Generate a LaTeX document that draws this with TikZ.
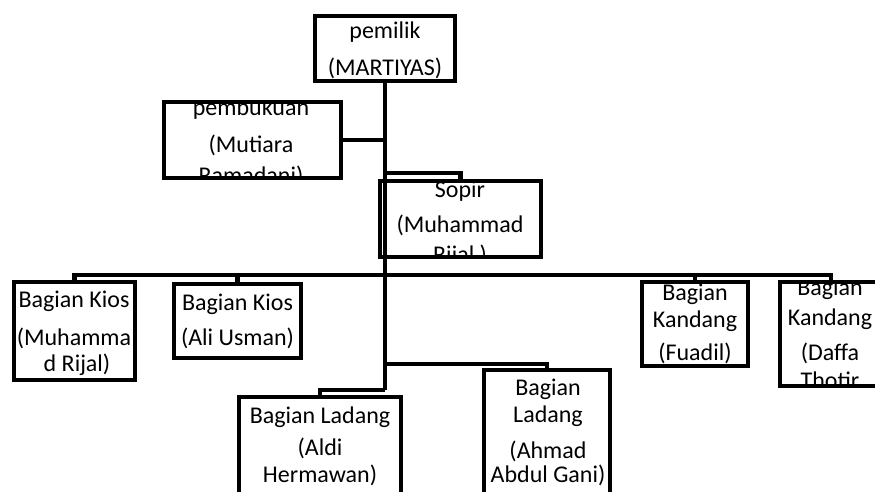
\documentclass[tikz,border=0pt]{standalone}
\usepackage{fontspec}
\setmainfont{Carlito}
\begin{document}
\begin{tikzpicture}[x=1pt,y=-1pt,
  orgbox/.style={draw=black,line width=4.8pt,rectangle,inner sep=0pt,outer sep=0pt},
  txt/.style={anchor=base,inner sep=0pt,font=\fontsize{24}{28}\selectfont,text=black},
  conn/.style={draw=black,line width=4.8pt,line join=miter}]
\useasboundingbox (0,0) rectangle (875,492);
\clip (0,0) rectangle (875,492);
\fill[white] (0,0) rectangle (875,492);

% boxes
\node[orgbox,minimum width=140pt,minimum height=65pt] (pemilik) at (385,48.5) {};
\node[orgbox,minimum width=177pt,minimum height=76pt] (pembukuan) at (252.5,140) {};
\node[orgbox,minimum width=161pt,minimum height=76pt] (sopir) at (460.5,219) {};
\node[orgbox,minimum width=121pt,minimum height=98pt] (kios1) at (74.5,331) {};
\node[orgbox,minimum width=127pt,minimum height=74pt] (kios2) at (237.5,321) {};
\node[orgbox,minimum width=106pt,minimum height=84pt] (kandang1) at (695,324) {};
\node[orgbox,minimum width=102pt,minimum height=104pt] (kandang2) at (831,334) {};
\node[orgbox,minimum width=162pt,minimum height=113pt] (ladang1) at (320,453.5) {};
\node[orgbox,minimum width=126pt,minimum height=140pt] (ladang2) at (547,440) {};

% texts (clipped to the inside of each box)
\begin{scope}
\clip ([xshift=2.4pt,yshift=2.4pt]pemilik.south west) rectangle ([xshift=-2.4pt,yshift=-2.4pt]pemilik.north east);
\node[txt] (pemilikA) at (385,39) {pemilik};
\node[txt] (pemilikB) at (385,76) {(MARTIYAS)};
\end{scope}
\begin{scope}
\clip ([xshift=2.4pt,yshift=2.4pt]pembukuan.south west) rectangle ([xshift=-2.4pt,yshift=-2.4pt]pembukuan.north east);
\node[txt] (pembA) at (251,116) {pembukuan};
\node[txt] (pembB) at (251,153) {(Mutiara};
\node[txt] (pembC) at (251,183) {Ramadani)};
\end{scope}
\begin{scope}
\clip ([xshift=2.4pt,yshift=2.4pt]sopir.south west) rectangle ([xshift=-2.4pt,yshift=-2.4pt]sopir.north east);
\node[txt] (sopirA) at (460,197) {Sopir};
\node[txt] (sopirB) at (460,232) {(Muhammad};
\node[txt] (sopirC) at (460,262) {Rijal )};
\end{scope}
\begin{scope}
\clip ([xshift=2.4pt,yshift=2.4pt]kios1.south west) rectangle ([xshift=-2.4pt,yshift=-2.4pt]kios1.north east);
\node[txt] (kios1A) at (74,307) {Bagian Kios};
\node[txt] (kios1B) at (74,345) {(Muhamma};
\node[txt] (kios1C) at (77,371) {d Rijal)};
\end{scope}
\begin{scope}
\clip ([xshift=2.4pt,yshift=2.4pt]kios2.south west) rectangle ([xshift=-2.4pt,yshift=-2.4pt]kios2.north east);
\node[txt] (kios2A) at (237.5,310) {Bagian Kios};
\node[txt] (kios2B) at (237.5,345) {(Ali Usman)};
\end{scope}
\begin{scope}
\clip ([xshift=2.4pt,yshift=2.4pt]kandang1.south west) rectangle ([xshift=-2.4pt,yshift=-2.4pt]kandang1.north east);
\node[txt] (kand1A) at (695,300) {Bagian};
\node[txt] (kand1B) at (695,327) {Kandang};
\node[txt] (kand1C) at (695,360) {(Fuadil)};
\end{scope}
\begin{scope}
\clip ([xshift=2.4pt,yshift=2.4pt]kandang2.south west) rectangle ([xshift=-2.4pt,yshift=-2.4pt]kandang2.north east);
\node[txt] (kand2A) at (830,295) {Bagian};
\node[txt] (kand2B) at (830,325) {Kandang};
\node[txt] (kand2C) at (830,360) {(Daffa};
\node[txt] (kand2D) at (830,388) {Thotir};
\end{scope}
\begin{scope}
\clip ([xshift=2.4pt,yshift=2.4pt]ladang1.south west) rectangle ([xshift=-2.4pt,yshift=-2.4pt]ladang1.north east);
\node[txt] (lad1A) at (320,423) {Bagian Ladang};
\node[txt] (lad1B) at (320,455) {(Aldi};
\node[txt] (lad1C) at (320,482) {Hermawan)};
\end{scope}
\begin{scope}
\clip ([xshift=2.4pt,yshift=2.4pt]ladang2.south west) rectangle ([xshift=-2.4pt,yshift=-2.4pt]ladang2.north east);
\node[txt] (lad2A) at (548,395) {Bagian};
\node[txt] (lad2B) at (548,422) {Ladang};
\node[txt] (lad2C) at (548,458) {(Ahmad};
\node[txt] (lad2D) at (548,482) {Abdul Gani)};
\end{scope}

% junction points on the trunk
\coordinate (jPemb) at (385,140);
\coordinate (jSopir) at (385,173);
\coordinate (bus) at (385,275);
\coordinate (jLad2) at (385,364);
\coordinate (jLad1) at (385,390);

% connectors
\draw[conn] (pemilik.south) -- (jLad1);
\draw[conn] (pembukuan.east) -- (jPemb);
\draw[conn] (jSopir) -| (sopir.north);
\draw[conn] (kios1.north) |- (bus) -| (kandang2.north);
\draw[conn] (bus) -| (kios2.north);
\draw[conn] (bus) -| (kandang1.north);
\draw[conn] (jLad2) -| (ladang2.north);
\draw[conn] (jLad1) -| (ladang1.north);
\end{tikzpicture}
\end{document}
